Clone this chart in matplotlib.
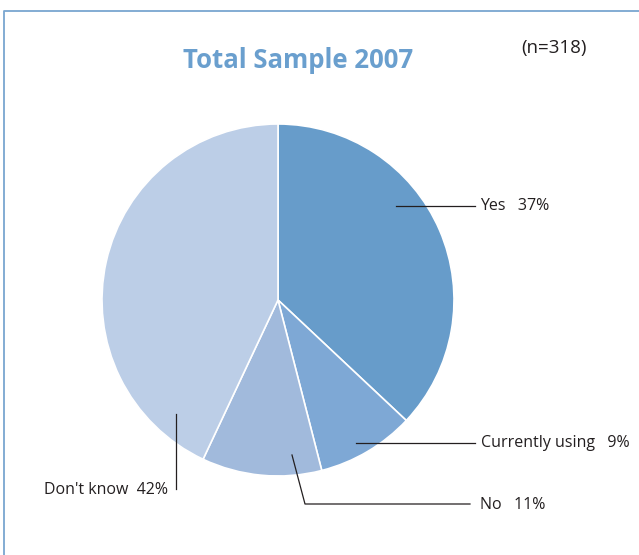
import matplotlib
matplotlib.use("Agg")
import matplotlib.pyplot as plt
import numpy as np

categories = ["Yes", "Currently using", "No", "Don't know"]
values = [37, 9, 11, 42]
colors = ["#679cca", "#7ea8d5", "#a1badc", "#bccee7"]
title = "Total Sample 2007"
sample = "(n=318)"

W, H = 639, 555
fig = plt.figure(figsize=(W / 100, H / 100), dpi=100)
ax = fig.add_axes([0, 0, 1, 1])

# percentages are rounded; the last slice ("Don't know") closes the circle
pie_values = [v / 100 for v in values[:-1]]
pie_values.append(1 - sum(pie_values))

cx, cy, R = 278, H - 300, 176
wedges, _ = ax.pie(pie_values, colors=colors, startangle=90, counterclock=False,
                   center=(cx, cy), radius=R, frame=True, normalize=False,
                   wedgeprops=dict(edgecolor="white", linewidth=1.2))
ax.set_xlim(0, W)
ax.set_ylim(0, H)
ax.set_aspect("equal")
ax.axis("off")

# frame lines (top and left)
ax.plot([3.5, 3.5, W], [0, H - 10.5, H - 10.5], color="#7aa6d0", lw=1.3,
        solid_capstyle="butt", clip_on=False)

tc = "#231f20"
fnt = "Open Sans"
ax.text(298, H - 60, title, ha="center", va="center", fontsize=18.5,
        fontweight="bold", color="#6a9fce", family=fnt)
ax.text(554, H - 48, sample, ha="center", va="center", fontsize=13.5,
        color=tc, family=fnt)

# leader lines and labels (layout positions)
lc = "#231f20"
lw = 0.9
fs = 11.5
# Yes
ax.plot([396, 475], [H - 206, H - 206], color=lc, lw=lw)
ax.text(480, H - 206, f"{categories[0]}   {values[0]}%", ha="left", va="center",
        fontsize=fs, color=tc, family=fnt)
# Currently using
ax.plot([356, 475], [H - 443, H - 443], color=lc, lw=lw)
ax.text(481, H - 443, f"{categories[1]}   {values[1]}%", ha="left", va="center",
        fontsize=fs, color=tc, family=fnt)
# No
ax.plot([292, 305, 470], [H - 455, H - 504, H - 504], color=lc, lw=lw)
ax.text(480, H - 505, f"{categories[2]}   {values[2]}%", ha="left", va="center",
        fontsize=fs, color=tc, family=fnt)
# Don't know
ax.plot([176, 176], [H - 414, H - 489], color=lc, lw=lw)
ax.text(168, H - 490, f"{categories[3]}  {values[3]}%", ha="right", va="center",
        fontsize=fs, color=tc, family=fnt)

fig.savefig("out.png", dpi=100, facecolor="white")
